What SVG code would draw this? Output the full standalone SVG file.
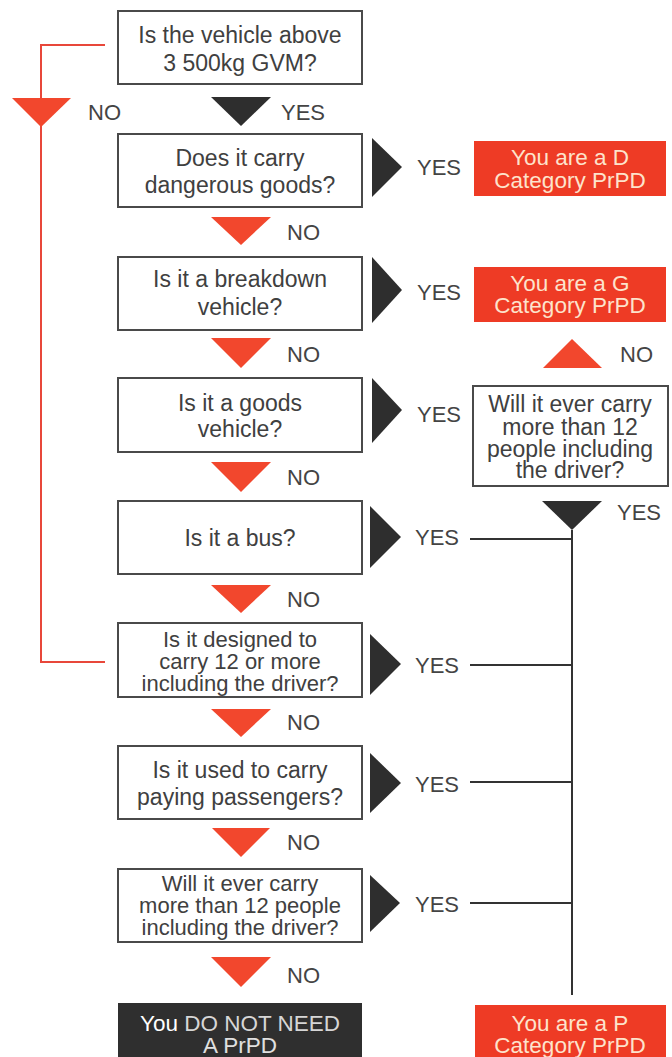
<svg xmlns="http://www.w3.org/2000/svg" width="672" height="1057" viewBox="0 0 672 1057">
<style>
.q{fill:#fff;stroke:#4a4a4a;stroke-width:2}
.t{font-family:"Liberation Sans",Arial,sans-serif;font-size:23px;fill:#404040;text-anchor:middle}
.t3{font-size:22px}
.lbl{font-family:"Liberation Sans",Arial,sans-serif;font-size:22px;fill:#444}
.res{fill:#ee3b25}
.rt{font-family:"Liberation Sans",Arial,sans-serif;font-size:22.5px;fill:#fde3cc;text-anchor:middle}
.tr{fill:#f2472d}
.tb{fill:#2e2e2e}
.rl{fill:none;stroke:#e8473a;stroke-width:2}
.bl{fill:none;stroke:#333;stroke-width:2}
</style>
<rect width="672" height="1057" fill="#fff"/>
<g id="connectors">
<path class="rl" d="M105,45 H41 V662 H105"/>
<path class="bl" d="M470,539 H572 M470,665 H572 M470,782 H572 M470,903 H572 M572,530 V995"/>
<polygon class="tr" points="12,98 71,98 41,127"/><text class="lbl" x="88" y="120">NO</text>
<polygon class="tb" points="211,97 271,97 241,126"/><text class="lbl" x="281" y="120">YES</text>
<polygon class="tb" points="372,138 402,167 372,197"/><text class="lbl" x="417" y="175">YES</text>
<polygon class="tr" points="211,217 271,217 241,245"/><text class="lbl" x="287" y="240">NO</text>
<polygon class="tb" points="372,257 402,290 372,323"/><text class="lbl" x="417" y="300">YES</text>
<polygon class="tr" points="211,338 271,338 241,368"/><text class="lbl" x="287" y="362">NO</text>
<polygon class="tr" points="543,368 602,368 572,339"/><text class="lbl" x="620" y="362">NO</text>
<polygon class="tb" points="372,378 402,410 372,443"/><text class="lbl" x="417" y="422">YES</text>
<polygon class="tr" points="211,462 271,462 241,492"/><text class="lbl" x="287" y="485">NO</text>
<polygon class="tb" points="542,501 602,501 572,530"/><text class="lbl" x="617" y="520">YES</text>
<polygon class="tb" points="370,506 401,537 370,568"/><text class="lbl" x="415" y="545">YES</text>
<polygon class="tr" points="211,585 271,585 241,613"/><text class="lbl" x="287" y="607">NO</text>
<polygon class="tb" points="370,634 401,664 370,695"/><text class="lbl" x="415" y="673">YES</text>
<polygon class="tr" points="211,709 271,709 241,737"/><text class="lbl" x="287" y="730">NO</text>
<polygon class="tb" points="370,753 401,783 370,813"/><text class="lbl" x="415" y="792">YES</text>
<polygon class="tr" points="212,828 270,828 241,857"/><text class="lbl" x="287" y="850">NO</text>
<polygon class="tb" points="370,875 400,903 370,932"/><text class="lbl" x="415" y="912">YES</text>
<polygon class="tr" points="211,957 271,957 241,987"/><text class="lbl" x="287" y="983">NO</text>
</g>
<g id="q1"><rect class="q" x="118" y="11" width="244" height="73"/><text class="t" x="240" y="43">Is the vehicle above</text><text class="t" x="240" y="71">3 500kg GVM?</text></g>
<g id="q2"><rect class="q" x="118" y="134" width="244" height="73"/><text class="t" x="240" y="166">Does it carry</text><text class="t" x="240" y="193">dangerous goods?</text></g>
<g id="q3"><rect class="q" x="118" y="257" width="244" height="73"/><text class="t" x="240" y="287">Is it a breakdown</text><text class="t" x="240" y="315">vehicle?</text></g>
<g id="q4"><rect class="q" x="118" y="378" width="244" height="74"/><text class="t" x="240" y="411">Is it a goods</text><text class="t" x="240" y="437">vehicle?</text></g>
<g id="q5"><rect class="q" x="118" y="501" width="244" height="73"/><text class="t" x="240" y="546">Is it a bus?</text></g>
<g id="q6"><rect class="q" x="118" y="623" width="244" height="74"/><text class="t t3" x="240" y="647">Is it designed to</text><text class="t t3" x="240" y="669">carry 12 or more</text><text class="t t3" x="240" y="691">including the driver?</text></g>
<g id="q7"><rect class="q" x="118" y="746" width="244" height="73"/><text class="t" x="240" y="778">Is it used to carry</text><text class="t" x="240" y="805">paying passengers?</text></g>
<g id="q8"><rect class="q" x="118" y="869" width="244" height="73"/><text class="t t3" x="240" y="891">Will it ever carry</text><text class="t t3" x="240" y="913">more than 12 people</text><text class="t t3" x="240" y="935">including the driver?</text></g>
<g id="qr"><rect class="q" x="473" y="386" width="195" height="100"/><text class="t" x="570" y="412">Will it ever carry</text><text class="t" x="570" y="435">more than 12</text><text class="t" x="570" y="457">people including</text><text class="t" x="570" y="478">the driver?</text></g>
<g id="rD"><rect class="res" x="474" y="141" width="192" height="55"/><text class="rt" x="570" y="165">You are a D</text><text class="rt" x="570" y="188">Category PrPD</text></g>
<g id="rG"><rect class="res" x="474" y="267" width="192" height="55"/><text class="rt" x="570" y="291">You are a G</text><text class="rt" x="570" y="313">Category PrPD</text></g>
<g id="rP"><rect class="res" x="475" y="1005" width="191" height="60"/><text class="rt" x="570" y="1031">You are a P</text><text class="rt" x="570" y="1053">Category PrPD</text></g>
<g id="rNone"><rect x="118" y="1003" width="244" height="60" fill="#2f2f2f"/><text class="rt" x="240" y="1031" style="fill:#fff"><tspan>You </tspan><tspan style="fill:#d6d6d6">DO NOT NEED</tspan></text><text class="rt" x="240" y="1053" style="fill:#e0e0e0">A PrPD</text></g>
</svg>
